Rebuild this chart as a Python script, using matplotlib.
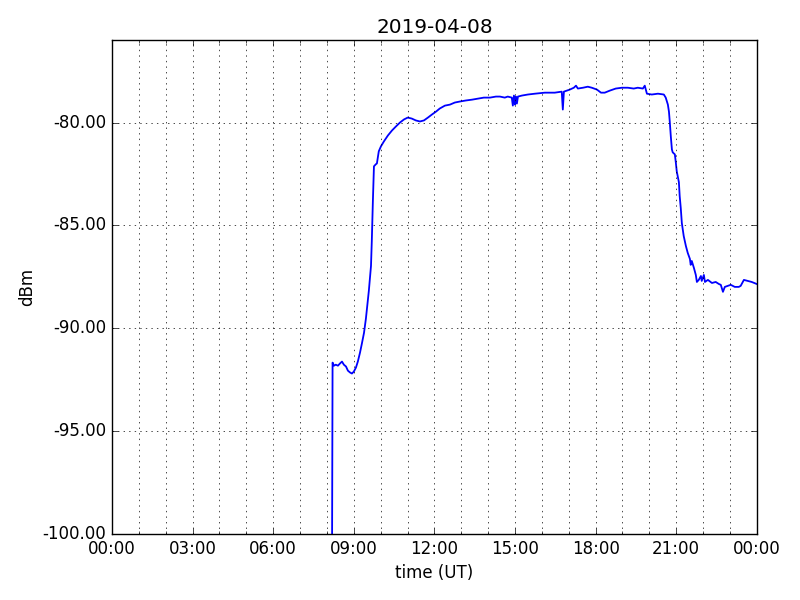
import datetime as dt

import matplotlib
matplotlib.use("Agg")
import matplotlib.pyplot as plt
import matplotlib.dates as mdates
from matplotlib.ticker import FormatStrFormatter

DAY = dt.datetime(2019, 4, 8)

# hours since 00:00 UT and received power (dBm)
hours = [
    8.19, 8.21, 8.26, 8.33, 8.41, 8.48, 8.56, 8.63, 8.71, 8.78, 8.86, 8.93,
    9.00, 9.08, 9.15, 9.23, 9.30, 9.38, 9.45, 9.49, 9.56, 9.64, 9.67, 9.71,
    9.75, 9.82, 9.86, 9.93, 10.01, 10.12, 10.27, 10.42, 10.57, 10.72, 10.87,
    11.01, 11.16, 11.31, 11.46, 11.61, 11.76, 11.91, 12.06, 12.20, 12.39,
    12.58, 12.76, 12.95, 13.17, 13.40, 13.62, 13.84, 14.07, 14.29, 14.44,
    14.62, 14.73, 14.88, 14.92, 14.96, 15.00, 15.03, 15.07, 15.11, 15.26,
    15.48, 15.74, 16.11, 16.48, 16.74, 16.78, 16.82, 17.04, 17.19, 17.27,
    17.34, 17.53, 17.71, 17.86, 18.05, 18.20, 18.34, 18.53, 18.75, 18.98,
    19.20, 19.42, 19.57, 19.76, 19.83, 19.91, 20.09, 20.32, 20.54, 20.61,
    20.69, 20.73, 20.76, 20.80, 20.84, 20.87, 20.95, 20.99, 21.02, 21.10,
    21.13, 21.17, 21.21, 21.28, 21.36, 21.43, 21.51, 21.54, 21.58, 21.66,
    21.73, 21.77, 21.84, 21.92, 21.95, 22.03, 22.07, 22.18, 22.33, 22.47,
    22.59, 22.66, 22.74, 22.81, 22.92, 23.03, 23.18, 23.33, 23.40, 23.52,
    23.67, 23.81, 24.00,
]
power = [
    -101.0, -91.67, -91.82, -91.77, -91.82, -91.72, -91.62, -91.77, -91.86,
    -92.06, -92.15, -92.20, -92.11, -91.91, -91.62, -91.19, -90.75, -90.22,
    -89.54, -89.06, -88.18, -86.97, -85.76, -83.83, -82.13, -82.03, -81.99,
    -81.40, -81.16, -80.92, -80.63, -80.39, -80.19, -80.00, -79.85, -79.76,
    -79.81, -79.90, -79.95, -79.90, -79.76, -79.61, -79.47, -79.32, -79.18,
    -79.13, -79.03, -78.98, -78.93, -78.89, -78.84, -78.79, -78.79, -78.74,
    -78.74, -78.79, -78.74, -78.79, -79.18, -78.69, -79.13, -78.74, -79.08,
    -78.74, -78.69, -78.64, -78.60, -78.55, -78.55, -78.50, -79.37, -78.50,
    -78.40, -78.31, -78.21, -78.35, -78.31, -78.26, -78.31, -78.40, -78.55,
    -78.55, -78.45, -78.35, -78.31, -78.31, -78.35, -78.31, -78.35, -78.21,
    -78.60, -78.64, -78.60, -78.64, -78.79, -79.13, -79.47, -79.95, -80.68,
    -81.31, -81.45, -81.55, -81.99, -82.37, -82.90, -83.58, -84.16, -84.89,
    -85.52, -86.00, -86.34, -86.63, -86.92, -86.73, -87.07, -87.41, -87.75,
    -87.65, -87.46, -87.70, -87.41, -87.75, -87.65, -87.80, -87.75, -87.85,
    -87.89, -88.23, -87.99, -87.94, -87.89, -87.99, -87.99, -87.94, -87.65,
    -87.70, -87.75, -87.85,
]

times = [DAY + dt.timedelta(hours=h) for h in hours]

plt.style.use("classic")
fig, ax = plt.subplots(figsize=(8, 6), dpi=100)
fig.subplots_adjust(left=0.14, right=0.946, bottom=0.11, top=0.933)

ax.plot(times, power, color="b", linewidth=1.3)

ax.set_xlim(DAY, DAY + dt.timedelta(days=1))
ax.set_ylim(-100, -76)
ax.set_yticks([-100, -95, -90, -85, -80])
ax.yaxis.set_major_formatter(FormatStrFormatter("%.2f"))
ax.xaxis.set_major_locator(mdates.HourLocator(byhour=range(0, 24, 3)))
ax.xaxis.set_minor_locator(mdates.HourLocator())
ax.xaxis.set_major_formatter(mdates.DateFormatter("%H:%M"))

ax.grid(True, which="major", linestyle=":", color="k")
ax.grid(True, which="minor", axis="x", linestyle=":", color="k")

ax.set_title("2019-04-08")
ax.set_xlabel("time (UT)")
ax.set_ylabel("dBm")

fig.savefig("out.png", dpi=100, facecolor="white")
